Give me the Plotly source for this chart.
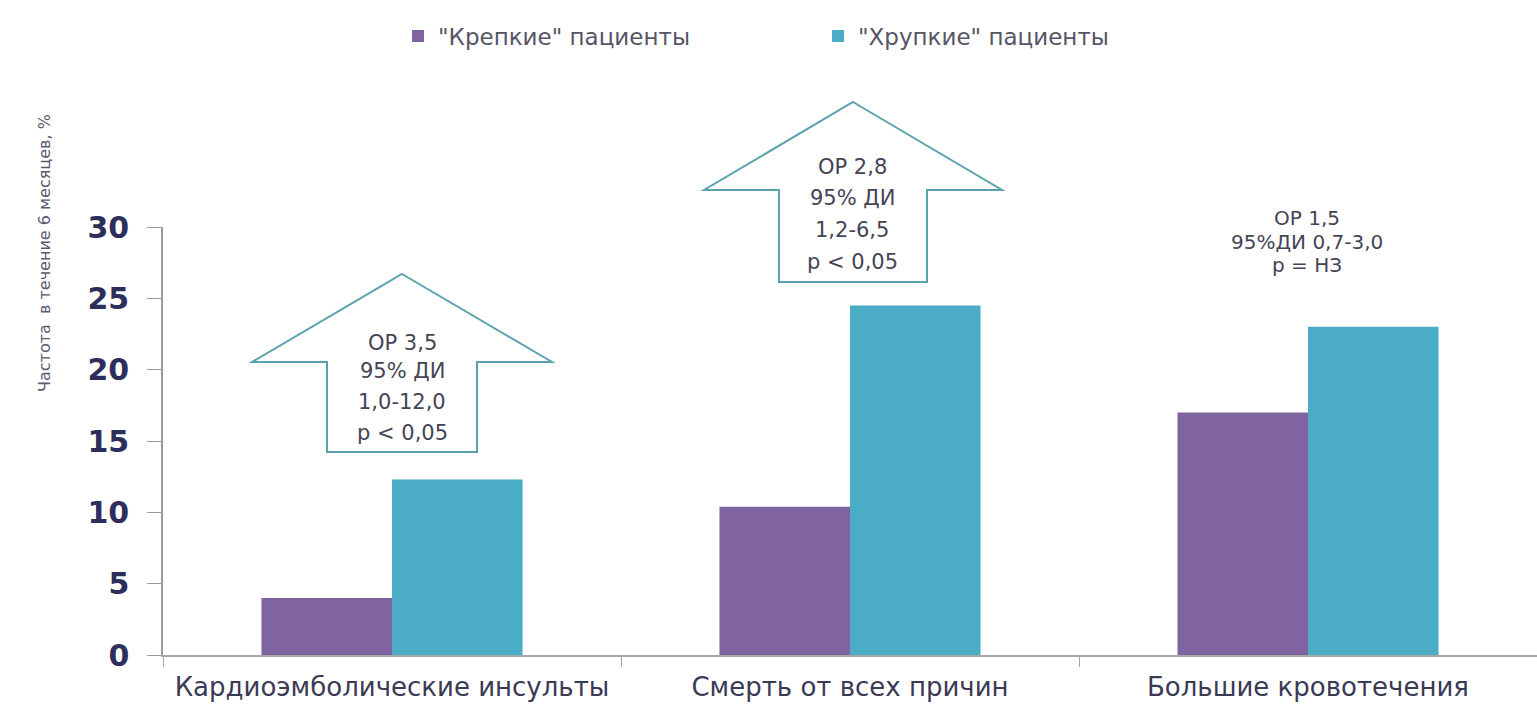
import plotly.graph_objects as go

categories = ["Кардиоэмболические инсульты", "Смерть от всех причин", "Большие кровотечения"]
strong_vals = [4.0, 10.4, 17.0]
frail_vals = [12.3, 24.5, 23.0]
series_names = ['"Крепкие" пациенты', '"Хрупкие" пациенты']
y_ticks = [0, 5, 10, 15, 20, 25, 30]

ann_blocks = [
    ["ОР 3,5", "95% ДИ", "1,0-12,0", "p < 0,05"],
    ["ОР 2,8", "95% ДИ", "1,2-6,5", "p < 0,05"],
    ["ОР 1,5", "95%ДИ 0,7-3,0", "p = НЗ"],
]

W, H = 1537, 707
L, R, T, B = 163, 0, 227, 52
PW, PH = W - L - R, H - T - B

def px(x):
    return (x - L) / PW

def py(y):
    return (H - B - y) / PH

PURPLE = "#8064A2"
TEAL = "#4BACC6"
ARROW = "#5BA3AC"
FONT = "DejaVu Sans"

fig = go.Figure()
fig.add_trace(go.Bar(x=categories, y=strong_vals, name=series_names[0],
                     marker=dict(color=PURPLE, line=dict(width=0))))
fig.add_trace(go.Bar(x=categories, y=frail_vals, name=series_names[1],
                     marker=dict(color=TEAL, line=dict(width=0))))

# arrow outlines (pixel geometry -> paper coords)
def arrow_path(cx, apex, wing_y, half_wing, half_shaft, bottom):
    pts = [(cx, apex), (cx + half_wing, wing_y), (cx + half_shaft, wing_y),
           (cx + half_shaft, bottom), (cx - half_shaft, bottom),
           (cx - half_shaft, wing_y), (cx - half_wing, wing_y)]
    return "M " + " L ".join(f"{px(a):.5f},{py(b):.5f}" for a, b in pts) + " Z"

shapes = [
    dict(type="path", xref="paper", yref="paper",
         path=arrow_path(402, 274, 362, 150, 75, 452),
         line=dict(color=ARROW, width=2), fillcolor="rgba(255,255,255,0)"),
    dict(type="path", xref="paper", yref="paper",
         path=arrow_path(853, 102, 190, 149, 74, 282),
         line=dict(color=ARROW, width=2), fillcolor="rgba(255,255,255,0)"),
]

annotations = []
block_pos = [(402, [343, 371, 402, 433], 21), (852, [167, 198, 230, 262], 21),
             (1307, [218, 242, 265], 20)]
for lines, (cx, ys, fs) in zip(ann_blocks, block_pos):
    for t, yy in zip(lines, ys):
        annotations.append(dict(text=t, x=px(cx), y=py(yy), xref="paper", yref="paper",
                                showarrow=False, xanchor="center", yanchor="middle",
                                font=dict(family=FONT, size=fs, color="#444455")))

annotations.append(dict(text="Частота  в течение 6 месяцев, %", x=px(45), y=py(253),
                        xref="paper", yref="paper", showarrow=False, textangle=-90,
                        xanchor="center", yanchor="middle",
                        font=dict(family=FONT, size=16, color="#5a5a70")))

fig.update_layout(
    width=W, height=H,
    margin=dict(l=L, r=R, t=T, b=B),
    paper_bgcolor="white", plot_bgcolor="white",
    barmode="group", bargap=0.43, bargroupgap=0,
    shapes=shapes, annotations=annotations,
    showlegend=True,
    legend=dict(orientation="h", x=px(398), xanchor="left", y=py(36), yanchor="middle",
                font=dict(family=FONT, size=23, color="#555566"),
                entrywidth=375, itemsizing="constant", traceorder="normal",
                bgcolor="rgba(0,0,0,0)"),
    xaxis=dict(type="category", showline=True, linecolor="#a8a8a8", linewidth=1.5,
               ticks="outside", tickson="boundaries", ticklen=10, tickcolor="#a8a8a8",
               tickfont=dict(family=FONT, size=26, color="#3a3a55"),
               ticklabelstandoff=8,
               showgrid=False, zeroline=False),
    yaxis=dict(range=[0, 30], tickvals=y_ticks, showline=True, linecolor="#999999",
               linewidth=1.5, ticks="outside", ticklen=14, tickcolor="#999999",
               tickfont=dict(family=FONT, size=30, color="#2E2E5C", weight="bold"),
               ticklabelstandoff=12,
               showgrid=False, zeroline=False),
)

fig.write_html("out.html")
